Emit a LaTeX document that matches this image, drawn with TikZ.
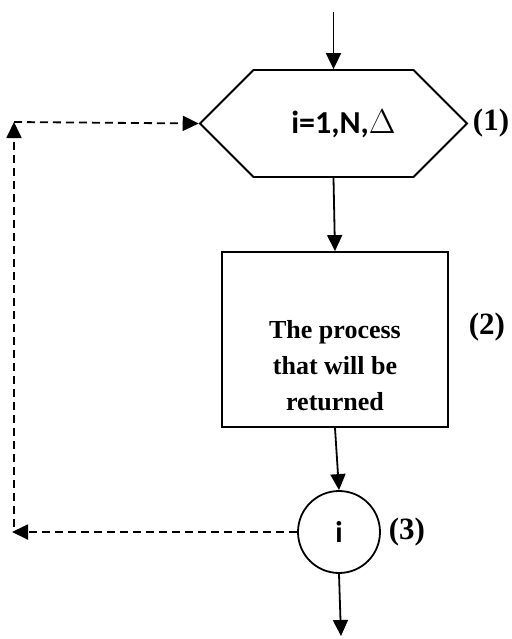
\documentclass[tikz,border=0pt]{standalone}
\usepackage{fontspec}
\setmainfont{Liberation Serif}
\newfontfamily\calib{Carlito}
\usetikzlibrary{positioning, arrows.meta, shapes.symbols, calc}
\tikzset{
  flowchart/.style={
	->, % every connector is directed
	>={Triangle[length=8pt,width=7.5pt]}, % filled heads
	line width=0.9pt,
	x=0.5pt, y=-0.5pt, % one unit is one pixel of the sketch
	node distance=1cm,
  },
  loopbox/.style={draw, signal, signal to=west and east, signal pointer angle=90, minimum width=133.5pt, minimum height=53.5pt, inner sep=0pt, font=\calib\bfseries\fontsize{16}{18}\selectfont}, % the loop header
  procbox/.style={draw, rectangle, minimum width=113pt, minimum height=87.5pt, align=center, font=\bfseries\fontsize{13}{18}\selectfont}, % the loop body
  countbox/.style={draw, circle, minimum size=41pt, inner sep=0pt, font=\calib\bfseries\fontsize{15}{18}\selectfont}, % the counter
  tag/.style={font=\bfseries\fontsize{15.5}{18}\selectfont}, % step numbers
  back/.style={dashed, dash pattern=on 4pt off 2.5pt}, % return path
}

\begin{document}
\begin{tikzpicture}[flowchart]
	\useasboundingbox (0,0) rectangle (512,639);

	\node[loopbox] (hex) at (333.5,123.5) {\hspace{10pt}i=1,N,$\Delta$};
	\node[procbox] (proc) at (335,339.5) {\rule{0pt}{35pt}The process\\that will be\\returned};
	\node[countbox] (cnt) at (339,532) {i};

	\node[tag] (t1) at (491,123) {(1)};
	\node[tag] (t2) at (487,327) {(2)};
	\node[tag] (t3) at (407,532) {(3)};

	\coordinate (in) at (333.5,12);
	\coordinate (out) at (341,636);
	\coordinate (cb) at (12,532);
	\coordinate (ct) at (14,122);

	\draw (in) -- (hex.north);
	\draw (hex.south) -- (proc.north);
	\draw (proc.south) -- (cnt.north);
	\draw (cnt.south) -- (out);

	\draw[back] (cnt.west) -- (cb);
	\draw[back] ($(cb)+(2,-5)$) -- (ct);
	\draw[back] (ct) -- (hex.west);
\end{tikzpicture}
\end{document}
